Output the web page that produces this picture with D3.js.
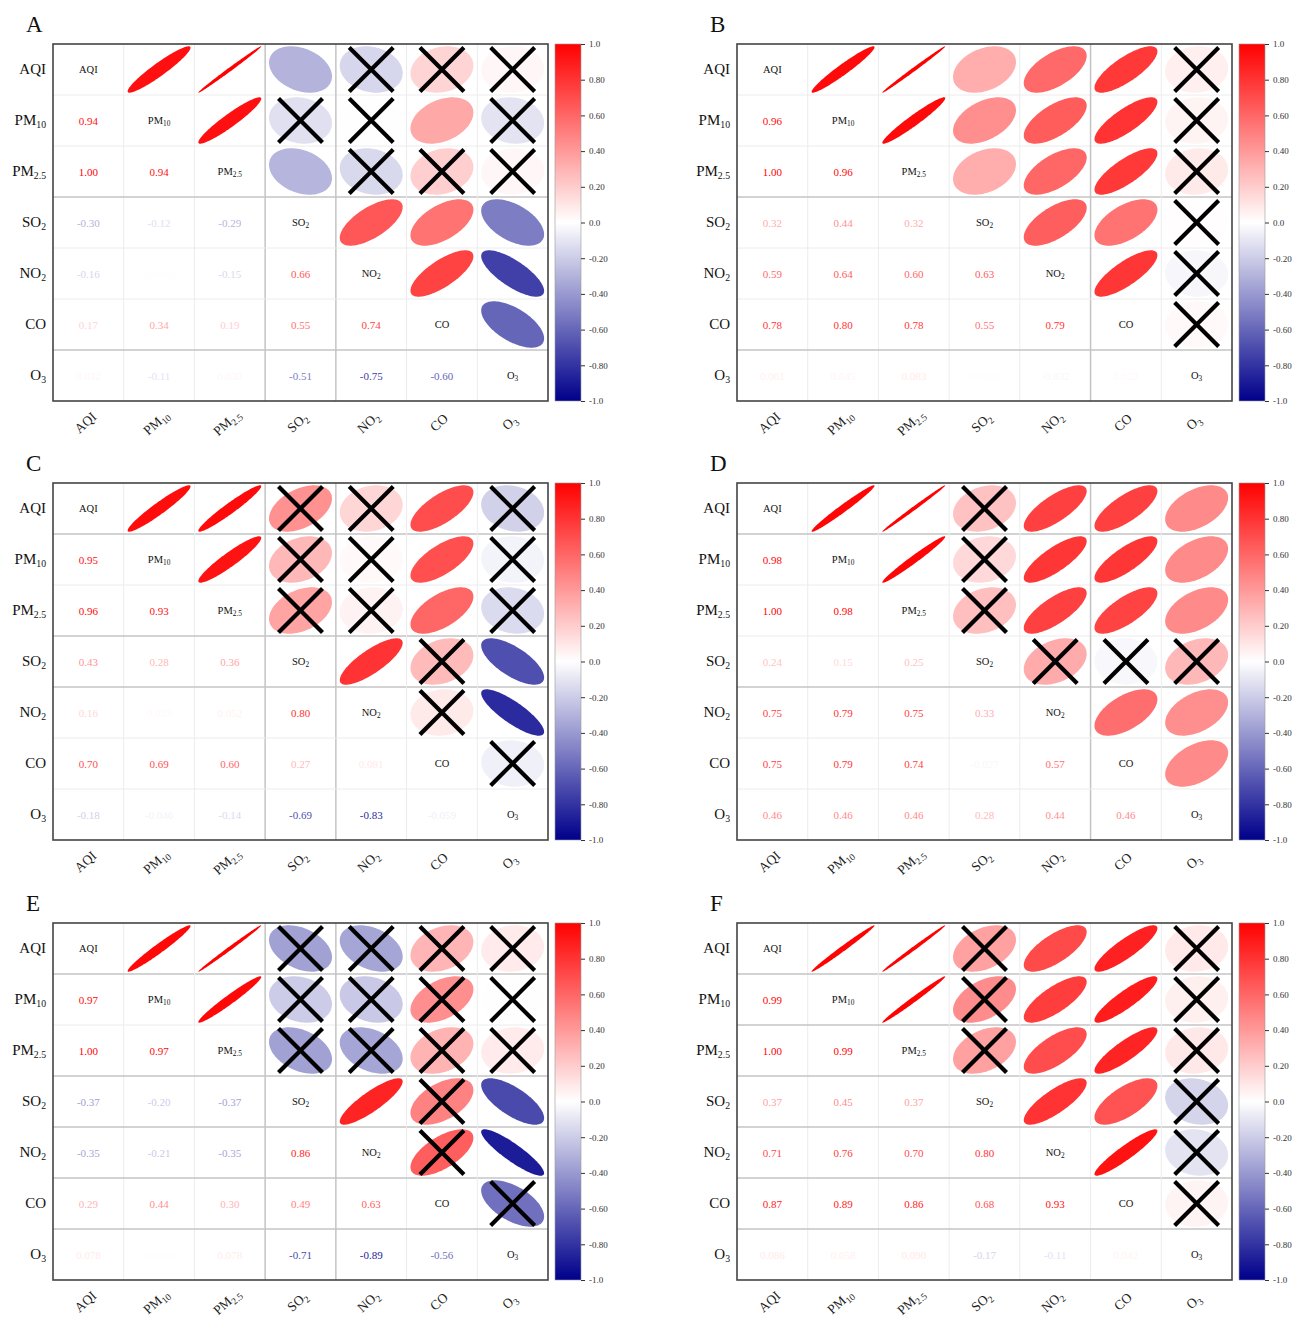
<!DOCTYPE html>
<html><head><meta charset="utf-8">
<script src="https://cdn.jsdelivr.net/npm/d3@7"></script>
<style>
body{margin:0;background:#fff}
text{font-family:"Liberation Serif","Times New Roman",serif}
</style>
</head><body>
<svg id="chart" width="1295" height="1319"></svg>
<script>
// ---------- DATA ----------
const vars = ["AQI","PM10","PM2.5","SO2","NO2","CO","O3"];
const panelNames = ["A","B","C","D","E","F"];

// lower-triangle correlations: row k => variable vars[k+1], entries for columns 0..k
const corrA = [
  [0.94],
  [0.9952,0.94],
  [-0.30,-0.12,-0.29],
  [-0.16,0.0042,-0.15,0.66],
  [0.17,0.34,0.19,0.55,0.74],
  [0.032,-0.11,0.030,-0.51,-0.75,-0.60]
];
const corrB = [
  [0.96],
  [0.9952,0.96],
  [0.32,0.44,0.32],
  [0.59,0.64,0.60,0.63],
  [0.78,0.80,0.78,0.55,0.79],
  [0.061,0.045,0.083,0.0065,-0.032,0.023]
];
const corrC = [
  [0.95],
  [0.96,0.93],
  [0.43,0.28,0.36],
  [0.16,0.023,0.052,0.80],
  [0.70,0.69,0.60,0.27,0.081],
  [-0.18,-0.046,-0.14,-0.69,-0.83,-0.059]
];
const corrD = [
  [0.98],
  [0.9952,0.98],
  [0.24,0.15,0.25],
  [0.75,0.79,0.75,0.33],
  [0.75,0.79,0.74,-0.027,0.57],
  [0.46,0.46,0.46,0.28,0.44,0.46]
];
const corrE = [
  [0.97],
  [0.9952,0.97],
  [-0.37,-0.20,-0.37],
  [-0.35,-0.21,-0.35,0.86],
  [0.29,0.44,0.30,0.49,0.63],
  [0.078,-0.0031,0.078,-0.71,-0.89,-0.56]
];
const corrF = [
  [0.99],
  [0.9952,0.99],
  [0.37,0.45,0.37],
  [0.71,0.76,0.70,0.80],
  [0.87,0.89,0.86,0.68,0.93],
  [0.086,0.058,0.090,-0.17,-0.11,0.042]
];

// non-significant pairs [row, col] in the upper triangle (crossed)
const nsA = [[0,4],[0,5],[0,6],[1,3],[1,4],[1,6],[2,4],[2,5],[2,6]];
const nsB = [[0,6],[1,6],[2,6],[3,6],[4,6],[5,6]];
const nsC = [[0,3],[0,4],[0,6],[1,3],[1,4],[1,6],[2,3],[2,4],[2,6],[3,5],[4,5],[5,6]];
const nsD = [[0,3],[1,3],[2,3],[3,4],[3,5],[3,6]];
const nsE = [[0,3],[0,4],[0,5],[0,6],[1,3],[1,4],[1,5],[1,6],[2,3],[2,4],[2,5],[2,6],[3,5],[4,5],[5,6]];
const nsF = [[0,3],[0,6],[1,3],[1,6],[2,3],[2,6],[3,6],[4,6],[5,6]];

const colorTicks = [1,0.8,0.6,0.4,0.2,0,-0.2,-0.4,-0.6,-0.8,-1];
const colorTickLabels = ["1.0","0.80","0.60","0.40","0.20","0.0","-0.20","-0.40","-0.60","-0.80","-1.0"];

// ---------- LAYOUT ----------
const panels = [
  {name:panelNames[0], corr:corrA, ns:nsA, x0:53,  y0:44,  darkV:[3,4], darkH:[3,6]},
  {name:panelNames[1], corr:corrB, ns:nsB, x0:737, y0:44,  darkV:[5],   darkH:[3,6]},
  {name:panelNames[2], corr:corrC, ns:nsC, x0:53,  y0:483, darkV:[3,4], darkH:[1,3,4]},
  {name:panelNames[3], corr:corrD, ns:nsD, x0:737, y0:483, darkV:[5],   darkH:[1,4]},
  {name:panelNames[4], corr:corrE, ns:nsE, x0:53,  y0:923, darkV:[3,4], darkH:[1,3,4,5,6]},
  {name:panelNames[5], corr:corrF, ns:nsF, x0:737, y0:923, darkV:[],    darkH:[1,2,3,4,5,6]}
];
const W = 495, H = 357;

const color = d3.scaleLinear().domain([-1,0,1]).range(["#00008B","#ffffff","#ff0000"]);
const svg = d3.select("#chart");

function fmt(v){
  const a = Math.abs(v);
  if (a >= 0.1) return v.toFixed(2);
  return v.toPrecision(2);
}
function addLabel(sel, name, subScale){
  const m = name.match(/^(\D+)([\d.]+)$/);
  if (!m){ sel.text(name); return; }
  sel.append("tspan").text(m[1]);
  sel.append("tspan").attr("font-size", (subScale*100)+"%").attr("dy","0.35em").text(m[2]);
}

panels.forEach((p, pi) => {
  const g = svg.append("g");
  const x = d3.scaleBand().domain(d3.range(7)).range([p.x0, p.x0+W]);
  const y = d3.scaleBand().domain(d3.range(7)).range([p.y0, p.y0+H]);
  const cw = x.bandwidth(), ch = y.bandwidth();
  const r = (i,j) => i===j ? 1 : (i>j ? p.corr[i-1][j] : p.corr[j-1][i]);

  // title
  g.append("text").attr("x", p.x0-27).attr("y", p.y0-12)
    .attr("font-size", 23).attr("fill","#111").text(p.name);

  // grid lines
  for (let k=1;k<7;k++){
    const dv = p.darkV.includes(k), dh = p.darkH.includes(k);
    g.append("line").attr("x1", x(k)).attr("x2", x(k)).attr("y1", p.y0).attr("y2", p.y0+H)
      .attr("stroke", dv ? "#c4c4c4" : "#ececec").attr("stroke-width", dv?1.5:1);
    g.append("line").attr("y1", y(k)).attr("y2", y(k)).attr("x1", p.x0).attr("x2", p.x0+W)
      .attr("stroke", dh ? "#c4c4c4" : "#ececec").attr("stroke-width", dh?1.5:1);
  }

  // upper triangle ellipses
  const ts = d3.range(0, 2*Math.PI+0.001, Math.PI/60);
  const line = d3.line();
  for (let i=0;i<7;i++){
    for (let j=i+1;j<7;j++){
      const v = r(i,j);
      const d = Math.acos(Math.max(-1,Math.min(1,v)));
      const cx = x(j)+cw/2, cy = y(i)+ch/2;
      const sx = 0.445*cw, sy = 0.455*ch;
      const pts = ts.map(t => [cx + Math.cos(t + d/2)*sx, cy - Math.cos(t - d/2)*sy]);
      g.append("path").attr("d", line(pts)+"Z").attr("fill", color(v)).attr("stroke","none");
    }
  }
  // crosses
  p.ns.forEach(([i,j]) => {
    const cx = x(j)+cw/2, cy = y(i)+ch/2, s = 22;
    g.append("line").attr("x1",cx-s).attr("y1",cy-s).attr("x2",cx+s).attr("y2",cy+s)
      .attr("stroke","#000").attr("stroke-width",4.2);
    g.append("line").attr("x1",cx-s).attr("y1",cy+s).attr("x2",cx+s).attr("y2",cy-s)
      .attr("stroke","#000").attr("stroke-width",4.2);
  });

  // lower triangle numbers
  for (let i=1;i<7;i++){
    for (let j=0;j<i;j++){
      const v = r(i,j);
      g.append("text").attr("x", x(j)+cw/2).attr("y", y(i)+ch/2+4)
        .attr("text-anchor","middle").attr("font-size",11)
        .attr("fill", color(v)).text(fmt(v));
    }
  }
  // diagonal names
  for (let i=0;i<7;i++){
    const t = g.append("text").attr("x", x(i)+cw/2).attr("y", y(i)+ch/2+3)
      .attr("text-anchor","middle").attr("font-size",10.5).attr("fill","#111");
    addLabel(t, vars[i], 0.7);
  }

  // frame
  g.append("rect").attr("x", p.x0).attr("y", p.y0).attr("width", W).attr("height", H)
    .attr("fill","none").attr("stroke","#444").attr("stroke-width",1.6);

  // row labels
  for (let i=0;i<7;i++){
    const t = g.append("text").attr("x", p.x0-7).attr("y", y(i)+ch/2+4)
      .attr("text-anchor","end").attr("font-size",15).attr("fill","#111");
    addLabel(t, vars[i], 0.65);
  }
  // column labels (rotated)
  for (let j=0;j<7;j++){
    const t = g.append("text")
      .attr("transform", `translate(${x(j)+cw/2},${p.y0+H+25}) rotate(-42)`)
      .attr("text-anchor","middle").attr("font-size",13.5).attr("fill","#222");
    addLabel(t, vars[j], 0.7);
  }

  // colorbar
  const cbx = p.x0 + W + 7, cbw = 26;
  const gid = "grad"+pi;
  const grad = svg.append("defs").append("linearGradient").attr("id", gid)
    .attr("x1",0).attr("y1",0).attr("x2",0).attr("y2",1);
  d3.range(0,1.0001,0.05).forEach(o => {
    grad.append("stop").attr("offset", o).attr("stop-color", color(1-2*o));
  });
  g.append("rect").attr("x", cbx).attr("y", p.y0).attr("width", cbw).attr("height", H)
    .attr("fill", `url(#${gid})`).attr("stroke","#999").attr("stroke-width",0.6);
  const cy = d3.scaleLinear().domain([1,-1]).range([p.y0, p.y0+H]);
  const ax = g.append("g").attr("transform", `translate(${cbx+cbw},0)`)
    .call(d3.axisRight(cy).tickValues(colorTicks)
      .tickFormat((d,i) => colorTickLabels[i]).tickSize(4).tickPadding(4));
  ax.select(".domain").remove();
  ax.selectAll("line").attr("stroke","#333");
  ax.selectAll("text").attr("font-family","Liberation Serif, serif").attr("font-size",9).attr("fill","#333");
});
</script>
</body></html>
